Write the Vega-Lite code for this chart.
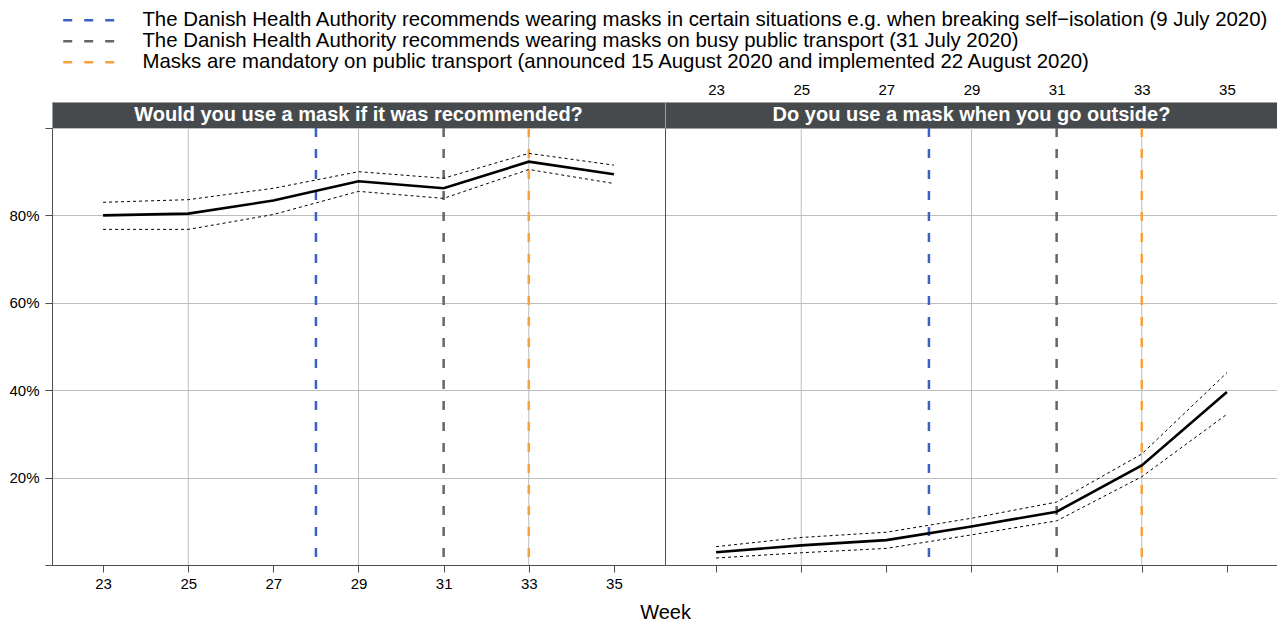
{
  "$schema": "https://vega.github.io/schema/vega-lite/v6.json",
  "autosize": {"type": "pad"},
  "padding": {"left": 8, "top": 10, "right": 0, "bottom": 2},
  "config": {
    "font": "Liberation Sans",
    "view": {"stroke": null},
    "axis": {"labelFont": "Liberation Sans", "labelFontSize": 15, "labelColor": "#000000", "domainColor": "#4d4d4d", "tickColor": "#4d4d4d", "gridColor": "#bdbdbd", "gridWidth": 1},
    "legend": {"labelFont": "Liberation Sans", "labelFontSize": 20.4, "labelColor": "#000000", "padding": 0}
  },
  "datasets": {
    "rec": [
      {"week": 23, "est": 0.800, "lo": 0.768, "hi": 0.830},
      {"week": 25, "est": 0.804, "lo": 0.768, "hi": 0.836},
      {"week": 27, "est": 0.834, "lo": 0.802, "hi": 0.862},
      {"week": 29, "est": 0.878, "lo": 0.855, "hi": 0.900},
      {"week": 31, "est": 0.862, "lo": 0.839, "hi": 0.885},
      {"week": 33, "est": 0.923, "lo": 0.905, "hi": 0.942},
      {"week": 35, "est": 0.894, "lo": 0.873, "hi": 0.915}
    ],
    "use": [
      {"week": 23, "est": 0.029, "lo": 0.016, "hi": 0.042},
      {"week": 25, "est": 0.045, "lo": 0.028, "hi": 0.063},
      {"week": 27, "est": 0.057, "lo": 0.038, "hi": 0.075},
      {"week": 29, "est": 0.088, "lo": 0.069, "hi": 0.107},
      {"week": 31, "est": 0.122, "lo": 0.101, "hi": 0.144},
      {"week": 33, "est": 0.228, "lo": 0.202, "hi": 0.254},
      {"week": 35, "est": 0.396, "lo": 0.345, "hi": 0.440}
    ],
    "events": [
      {"week": 28, "event": "The Danish Health Authority recommends wearing masks in certain situations e.g. when breaking self\u2212isolation (9 July 2020)"},
      {"week": 31, "event": "The Danish Health Authority recommends wearing masks on busy public transport (31 July 2020)"},
      {"week": 33, "event": "Masks are mandatory on public transport (announced 15 August 2020 and implemented 22 August 2020)"}
    ],
    "grid": [{"week": 25}, {"week": 29}, {"week": 33}],
    "weeks": [{"week": 23}, {"week": 25}, {"week": 27}, {"week": 29}, {"week": 31}, {"week": 33}, {"week": 35}],
    "hdrL": [{"q": "Would you use a mask if it was recommended?"}],
    "hdrR": [{"q": "Do you use a mask when you go outside?"}]
  },
  "columns": 2,
  "spacing": 0,
  "bounds": "flush",
  "concat": [
    {
      "width": 613, "height": 26,
      "view": {"fill": "#464a4d", "stroke": "#9e9e9e"},
      "data": {"name": "hdrL"},
      "mark": {"type": "text", "color": "#ffffff", "fontSize": 20, "fontWeight": "bold", "baseline": "middle", "font": "Liberation Sans"},
      "encoding": {"text": {"field": "q", "type": "nominal"}}
    },
    {
      "width": 613, "height": 26,
      "view": {"fill": "#464a4d", "stroke": "#9e9e9e"},
      "layer": [
        {
          "data": {"name": "weeks"},
          "mark": {"type": "tick", "opacity": 0},
          "encoding": {
            "x": {"field": "week", "type": "quantitative", "scale": {"domain": [21.8, 36.2], "nice": false, "zero": false},
                  "axis": {"title": null, "orient": "top", "values": [23, 25, 27, 29, 31, 33, 35], "format": "d", "ticks": false, "domain": false, "labelPadding": 5, "grid": false}}
          }
        },
        {
          "data": {"name": "hdrR"},
          "mark": {"type": "text", "color": "#ffffff", "fontSize": 20, "fontWeight": "bold", "baseline": "middle", "font": "Liberation Sans"},
          "encoding": {"text": {"field": "q", "type": "nominal"}}
        }
      ]
    },
    {
      "width": 613, "height": 437,
      "layer": [
        {
          "data": {"name": "grid"},
          "mark": {"type": "rule", "color": "#bdbdbd", "strokeWidth": 1},
          "encoding": {
            "x": {"field": "week", "type": "quantitative", "scale": {"domain": [21.8, 36.2], "nice": false, "zero": false},
                  "axis": {"title": "Week", "titleX": 613, "titleY": 47, "titleAlign": "center", "titleBaseline": "middle", "titleFontSize": 20, "titleFontWeight": "normal", "titleColor": "#000000", "titleFont": "Liberation Sans",
                           "values": [23, 25, 27, 29, 31, 33, 35], "format": "d", "tickSize": 7, "labelPadding": 4, "grid": false}}
          }
        },
        {
          "data": {"name": "events"},
          "mark": {"type": "rule", "strokeWidth": 2.5, "strokeDash": [9, 12]},
          "encoding": {
            "x": {"field": "week", "type": "quantitative", "axis": {"title": "Week"}},
            "color": {"field": "event", "type": "nominal",
              "scale": {"domain": [
                "The Danish Health Authority recommends wearing masks in certain situations e.g. when breaking self\u2212isolation (9 July 2020)",
                "The Danish Health Authority recommends wearing masks on busy public transport (31 July 2020)",
                "Masks are mandatory on public transport (announced 15 August 2020 and implemented 22 August 2020)"],
                "range": ["#3d61c0", "#666666", "#f8a03a"]},
              "legend": {"title": null, "orient": "none", "legendX": 27, "legendY": -92, "symbolType": "M-5.2,0H5.2", "symbolSize": 100, "symbolStrokeWidth": 2.5, "symbolDash": [9, 12], "labelOffset": 43, "labelLimit": 1300, "rowPadding": 0}}
          }
        },
        {
          "data": {"name": "rec"},
          "mark": {"type": "line", "color": "#000000", "strokeWidth": 1, "strokeDash": [3, 3]},
          "encoding": {
            "x": {"field": "week", "type": "quantitative", "axis": {"title": "Week"}},
            "y": {"field": "hi", "type": "quantitative", "scale": {"domain": [0, 1], "nice": false, "zero": false},
                  "axis": {"title": null, "values": [0, 0.2, 0.4, 0.6, 0.8, 1], "format": ".0%", "labelExpr": "datum.value > 0.01 && datum.value < 0.99 ? datum.label : ''", "tickSize": 7, "labelPadding": 6, "grid": true}}
          }
        },
        {
          "data": {"name": "rec"},
          "mark": {"type": "line", "color": "#000000", "strokeWidth": 1, "strokeDash": [3, 3]},
          "encoding": {
            "x": {"field": "week", "type": "quantitative", "axis": {"title": "Week"}},
            "y": {"field": "lo", "type": "quantitative", "axis": {"title": null}}
          }
        },
        {
          "data": {"name": "rec"},
          "mark": {"type": "line", "color": "#000000", "strokeWidth": 2.6},
          "encoding": {
            "x": {"field": "week", "type": "quantitative", "axis": {"title": "Week"}},
            "y": {"field": "est", "type": "quantitative", "axis": {"title": null}}
          }
        }
      ]
    },
    {
      "width": 613, "height": 437,
      "layer": [
        {
          "data": {"name": "grid"},
          "mark": {"type": "rule", "color": "#bdbdbd", "strokeWidth": 1},
          "encoding": {
            "x": {"field": "week", "type": "quantitative", "scale": {"domain": [21.8, 36.2], "nice": false, "zero": false},
                  "axis": {"title": null, "values": [23, 25, 27, 29, 31, 33, 35], "labels": false, "tickSize": 7, "grid": false}}
          }
        },
        {
          "data": {"name": "events"},
          "mark": {"type": "rule", "strokeWidth": 2.5, "strokeDash": [9, 12]},
          "encoding": {
            "x": {"field": "week", "type": "quantitative", "axis": {"title": null}},
            "color": {"field": "event", "type": "nominal",
              "legend": {"title": null, "orient": "none", "legendX": 27, "legendY": -92, "symbolType": "M-5.2,0H5.2", "symbolSize": 100, "symbolStrokeWidth": 2.5, "symbolDash": [9, 12], "labelOffset": 43, "labelLimit": 1300, "rowPadding": 0}}
          }
        },
        {
          "data": {"name": "use"},
          "mark": {"type": "line", "color": "#000000", "strokeWidth": 1, "strokeDash": [3, 3]},
          "encoding": {
            "x": {"field": "week", "type": "quantitative", "axis": {"title": null}},
            "y": {"field": "hi", "type": "quantitative", "scale": {"domain": [0, 1], "nice": false, "zero": false},
                  "axis": {"title": null, "values": [0.2, 0.4, 0.6, 0.8], "labels": false, "ticks": false, "domain": true, "grid": true}}
          }
        },
        {
          "data": {"name": "use"},
          "mark": {"type": "line", "color": "#000000", "strokeWidth": 1, "strokeDash": [3, 3]},
          "encoding": {
            "x": {"field": "week", "type": "quantitative", "axis": {"title": null}},
            "y": {"field": "lo", "type": "quantitative", "axis": {"title": null}}
          }
        },
        {
          "data": {"name": "use"},
          "mark": {"type": "line", "color": "#000000", "strokeWidth": 2.6},
          "encoding": {
            "x": {"field": "week", "type": "quantitative", "axis": {"title": null}},
            "y": {"field": "est", "type": "quantitative", "axis": {"title": null}}
          }
        }
      ]
    }
  ]
}
